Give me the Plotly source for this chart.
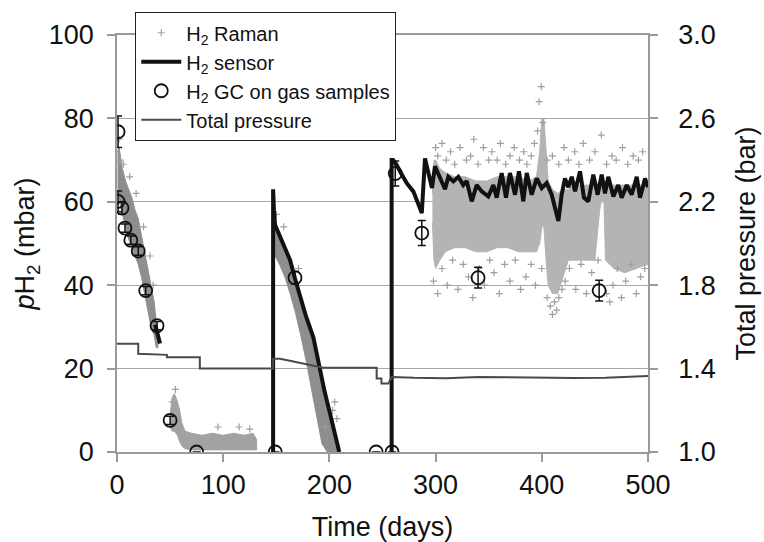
import plotly.graph_objects as go

# ---------------- data ----------------
# H2 Raman: dense bands (upper / lower edge of the point cloud), pH2 in mbar
raman1_day = [0.5, 2, 5, 8, 11, 14, 17, 20, 23, 26, 29, 32, 35, 37, 38.5]
raman1_hi = [72, 73, 68, 65, 63, 61, 58, 56, 52, 48, 44, 40, 36, 31, 27]
raman1_lo = [62, 60, 57, 54, 51, 49, 47, 45, 42, 38, 34, 30, 28, 25, 25]

raman2_day = [50, 52, 54, 57, 59, 61, 64, 70, 80, 90, 100, 110, 120, 128, 131.5]
raman2_hi = [9, 13, 14, 12, 10, 7, 5, 4.5, 4, 4.5, 4, 4.5, 4, 4.5, 3]
raman2_lo = [6, 5, 5, 4, 2.5, 1.5, 0.8, 0.5, 0.5, 0.5, 0.5, 0.5, 0.5, 0.5, 0.5]

raman3_day = [147.3, 149, 153, 158, 163, 168, 173, 178, 183, 188, 193, 198, 203, 207, 209]
raman3_hi = [56, 54.5, 52, 49.5, 46, 42, 37.5, 33, 28.5, 23, 17, 11, 6, 2, 0.5]
raman3_lo = [50, 47, 45, 42, 38, 33.5, 28, 22, 16, 9, 2, 0, 0, 0, 0]

raman4_day = [297, 298.5, 300, 304, 309, 318, 328, 338, 348, 358,
              368, 378, 388, 395, 398, 400, 402, 404, 406, 410,
              415, 420, 425, 430, 440, 450, 454.5, 456, 458.5, 460,
              468, 478, 488, 500]
raman4_hi = [62, 70, 70, 68, 67, 66, 66, 65, 65, 66,
             66, 66, 65, 66, 72, 80, 80, 72, 65, 63,
             62, 63, 63, 64, 64, 64, 64, 64, 64, 64,
             64, 64, 64, 64]
raman4_lo = [55, 46, 44, 46, 48, 49, 49, 48, 48, 49,
             49, 48, 48, 48, 50, 54, 54, 46, 40, 38,
             38, 42, 46, 46, 46, 46, 58, 60, 60, 46,
             44, 43, 44, 45]

# H2 Raman: individual scattered points
rs_day = [2, 3, 6, 12, 18, 25, 31, 34, 55, 52,
          95, 115, 125, 150, 157, 171, 196, 203, 205, 207]
rs_val = [75, 70, 69, 66, 62, 54, 47, 40, 15, 12,
          6, 6, 5.5, 57, 54, 44, 6, 10, 12, 8]
ra_day = [300, 302, 306, 310, 314, 318, 323, 329, 333, 336,
          340, 345, 350, 353, 358, 361, 366, 370, 374, 379,
          383, 386, 390, 393, 396, 397.5, 399.5, 401, 405, 410,
          416, 421, 425, 431, 435, 439, 445, 450, 456, 461,
          466, 470, 476, 481, 486, 491, 495]
ra_val = [73, 71, 74, 70, 72, 69, 73, 70, 71, 75,
          69, 73, 70, 72, 70, 74, 69, 71, 73, 70,
          72, 69, 71, 74, 77, 84, 87.6, 79, 70, 71,
          69, 73, 70, 72, 69, 74, 70, 72, 76, 69,
          71, 70, 73, 69, 71, 70, 72]
rb_day = [298, 302, 306, 311, 316, 321, 326, 331, 335, 341,
          346, 351, 355, 360, 365, 370, 375, 380, 385, 390,
          394, 400, 405, 408, 410, 412, 414, 416, 419, 422,
          426, 432, 437, 442, 447, 453, 461, 464, 467, 471,
          475, 479, 484, 489, 493, 497]
rb_val = [41, 38, 44, 40, 46, 39, 45, 42, 37, 44,
          40, 46, 43, 38, 45, 41, 46, 39, 42, 45,
          40, 44, 37, 35, 33, 36, 34, 37, 39, 41,
          44, 39, 45, 38, 43, 46, 38, 36, 40, 44,
          37, 41, 45, 38, 42, 44]

# H2 sensor (mbar), three runs
sensorA_day = [36, 38, 40.5]
sensorA_val = [30.5, 28, 26]
sensorB_day = [147, 147, 147.8, 148.8, 151, 153.5, 158, 163, 167.6, 173,
               178, 184.9, 191, 195.5, 200.6, 205, 209.3]
sensorB_val = [0, 63, 58, 54.5, 53.2, 52.2, 49.5, 46, 41.6, 37,
               32.5, 27.5, 19.6, 14.5, 9.2, 4.5, 0]
sensorC_day = [258.6, 258.6, 260, 263, 268, 273, 279, 285, 287, 290,
               296.6, 299.4, 304, 308.9, 312, 316.7, 321.4, 326, 329.3, 334,
               338.7, 343.4, 349.6, 354.4, 357.5, 362.2, 366.3, 370, 374.8, 378.5,
               382.6, 385.8, 390.5, 395.2, 399.9, 404.6, 409.3, 412.4, 415.6, 418.7,
               421.8, 425, 428.2, 431.3, 436, 439.7, 443.8, 448.5, 452.6, 456.4,
               459.5, 462.6, 467.4, 472, 475.2, 480, 484.6, 489.4, 492.5, 497.2,
               500]
sensorC_val = [0, 70, 70, 69, 66.6, 64.4, 62.5, 59, 57.3, 70.4,
               63.3, 68.5, 66, 63, 66, 64.9, 66, 64, 65, 60.1,
               64, 62.5, 61.3, 64, 61, 66.9, 61, 66.9, 61.7, 67.3,
               60.1, 66.9, 61.7, 65.6, 63.3, 64.5, 61.7, 58.5, 55.4, 61.7,
               65.6, 63.5, 66, 62.5, 67.3, 61, 60.1, 66.5, 61.7, 66.5,
               62, 66, 61.3, 64, 61, 64, 61.7, 66, 61, 65.6,
               63.5]

# H2 GC on gas samples (mbar) with error bars
gc_day = [1, 1, 4.7, 7.5, 13, 20, 27, 37.7, 50, 75, 149, 167.6, 244, 259, 262, 287, 340, 454]
gc_val = [76.8, 60.1, 58.5, 53.7, 50.8, 48.2, 38.7, 30.3, 7.6, 0, 0, 41.8, 0, 0, 66.8, 52.5, 41.8, 38.7]
gc_err = [3.8, 2.5, 1.5, 1, 1, 1, 1, 1, 1, 0, 0, 1.5, 0, 0, 3, 3, 2.5, 2.5]

# Total pressure (bar)
p_day = [0, 20, 20, 47, 47, 78, 78, 147, 147, 153.5,
         165, 180, 194, 244.5, 244.5, 249, 249, 255.5, 258.6, 280,
         310, 340, 370, 400, 430, 460, 490, 500]
p_bar = [1.519, 1.519, 1.471, 1.466, 1.455, 1.455, 1.40, 1.40, 1.447, 1.447,
         1.435, 1.418, 1.404, 1.404, 1.352, 1.352, 1.328, 1.328, 1.36, 1.356,
         1.354, 1.36, 1.358, 1.356, 1.355, 1.356, 1.36, 1.364]

# ---------------- figure ----------------
FONT = "Liberation Sans, Arial, sans-serif"
fig = go.Figure()

bands = [(raman1_day, raman1_hi, raman1_lo, "#8e8e8e"),
         (raman2_day, raman2_hi, raman2_lo, "#a2a2a2"),
         (raman3_day, raman3_hi, raman3_lo, "#8e8e8e"),
         (raman4_day, raman4_hi, raman4_lo, "#b4b4b4")]
for d, hi, lo, col in bands:
    fig.add_trace(go.Scatter(
        x=list(d) + list(d)[::-1], y=list(hi) + list(lo)[::-1],
        fill="toself", fillcolor=col, mode="lines",
        line=dict(width=1, color=col), showlegend=False, hoverinfo="skip"))

fig.add_trace(go.Scatter(
    x=rs_day + ra_day + rb_day, y=rs_val + ra_val + rb_val,
    mode="markers", name="H<sub>2</sub> Raman", legendrank=1,
    marker=dict(symbol="cross-thin", size=5, color="#a0a0a0",
                line=dict(width=1.2, color="#a0a0a0"))))

sx = sensorA_day + [None] + sensorB_day + [None] + sensorC_day
sy = sensorA_val + [None] + sensorB_val + [None] + sensorC_val
fig.add_trace(go.Scatter(
    x=sx, y=sy, mode="lines", name="H<sub>2</sub> sensor", legendrank=2,
    line=dict(color="#111111", width=4), connectgaps=False))

fig.add_trace(go.Scatter(
    x=gc_day, y=gc_val, mode="markers", name="H<sub>2</sub> GC on gas samples",
    legendrank=3,
    marker=dict(symbol="circle-open", size=13, color="#111111",
                line=dict(width=1.8, color="#111111")),
    error_y=dict(type="data", array=gc_err, visible=True, color="#111111",
                 thickness=1.5, width=4)))

fig.add_trace(go.Scatter(
    x=p_day, y=p_bar, mode="lines", name="Total pressure", legendrank=4,
    yaxis="y2", line=dict(color="#4a4a4a", width=2)))

axis_common = dict(showline=True, linecolor="#9a9a9a", linewidth=1.5,
                   ticks="outside", ticklen=8, tickcolor="#9a9a9a", tickwidth=1.5,
                   tickfont=dict(family=FONT, size=27, color="#111"),
                   zeroline=False, automargin=False)

fig.update_layout(
    width=764, height=542,
    margin=dict(l=117, r=116, t=33, b=90),
    paper_bgcolor="white", plot_bgcolor="white",
    font=dict(family=FONT, color="#111"),
    xaxis=dict(range=[0, 500], dtick=100, showgrid=False, mirror=True,
               title=dict(text="Time (days)", font=dict(family=FONT, size=27), standoff=19),
               **axis_common),
    yaxis=dict(range=[0, 100], dtick=20, showgrid=True, gridcolor="#a8a8a8", gridwidth=1.2,
               ticklabelstandoff=8,
               title=dict(text="<i>p</i>H<sub>2</sub> (mbar)", font=dict(family=FONT, size=27),
                          standoff=6),
               **axis_common),
    yaxis2=dict(range=[1.0, 3.0], tick0=1.0, dtick=0.4, tickformat=".1f",
                overlaying="y", side="right", showgrid=False, ticklabelstandoff=15,
                title=dict(text="Total pressure (bar)", font=dict(family=FONT, size=27),
                           standoff=21),
                **axis_common),
    legend=dict(x=0.034, y=1.055, xanchor="left", yanchor="top",
                bgcolor="white", bordercolor="#222", borderwidth=1.2,
                font=dict(family=FONT, size=20, color="#111"),
                tracegroupgap=0, itemwidth=40),
    showlegend=True,
)

fig.write_html("out.html")
